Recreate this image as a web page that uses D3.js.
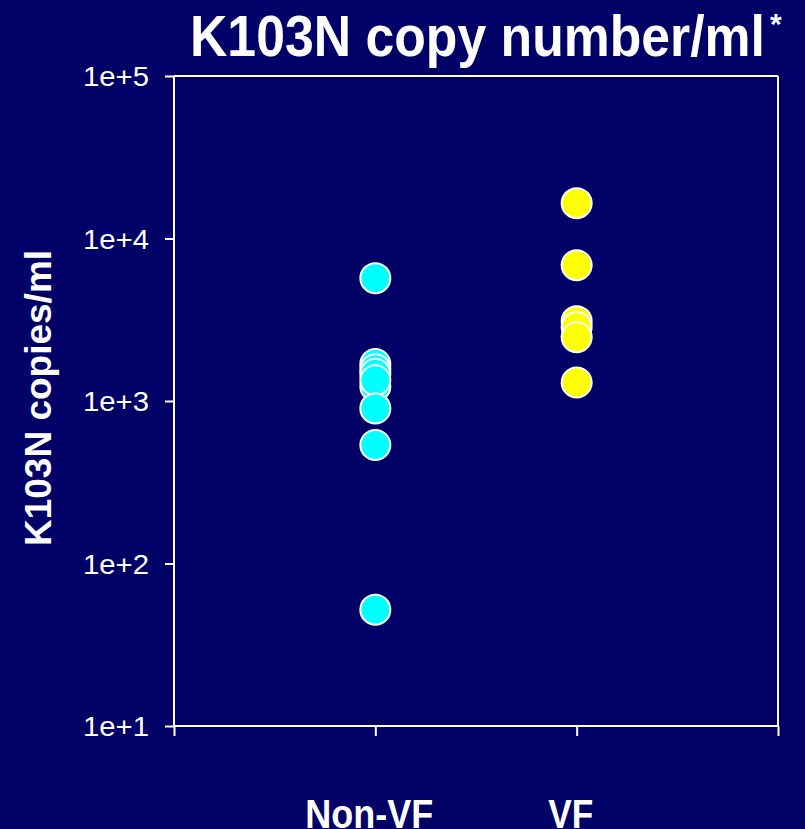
<!DOCTYPE html>
<html><head><meta charset="utf-8">
<script src="https://cdn.jsdelivr.net/npm/d3@7"></script>
<style>
html,body{margin:0;padding:0;background:#000066;}
svg{display:block;}
text{font-family:"Liberation Sans",Arial,sans-serif;fill:#fff;}
</style></head><body>
<svg id="c" width="805" height="829"></svg>
<script>
const categories = ["Non-VF", "VF"];
const nonVF = [5700, 1690, 1570, 1470, 1230, 1340, 900, 536, 52];
const vf = [16500, 6850, 3100, 2850, 2470, 1300];
const yTicks = [10, 100, 1000, 10000, 100000];
const yTickLabels = ["1e+1", "1e+2", "1e+3", "1e+4", "1e+5"];
const colors = ["#00ffff", "#ffff00"];

const svg = d3.select("#c");
const L = 174, R = 778, T = 76, B = 726;
const x = d3.scaleLinear().domain([0, 3]).range([L, R]);
const y = d3.scaleLog().domain([10, 100000]).range([B, T]);

// box
svg.append("line").attr("x1", L).attr("x2", R).attr("y1", T).attr("y2", T).attr("stroke", "#fff").attr("stroke-width", 2);
svg.append("line").attr("x1", R).attr("x2", R).attr("y1", T).attr("y2", B).attr("stroke", "#fff").attr("stroke-width", 2);

const yAxis = d3.axisLeft(y).tickValues(yTicks).tickFormat((d, i) => yTickLabels[i]).tickSize(9).tickPadding(16);
const gy = svg.append("g").attr("transform", `translate(${L},0)`).call(yAxis);
gy.select(".domain").attr("stroke", "#fff").attr("stroke-width", 2).attr("d", `M0,${T}V${B}`);
gy.selectAll(".tick line").attr("stroke", "#fff").attr("stroke-width", 2);
gy.selectAll(".tick text").attr("fill", "#fff").style("font-size", "27px").attr("dy", "0.36em")
  .attr("textLength", 66).attr("lengthAdjust", "spacingAndGlyphs");

const xAxis = d3.axisBottom(x).tickValues([0, 1, 2, 3]).tickFormat("").tickSize(10);
const gx = svg.append("g").attr("transform", `translate(0,${B})`).call(xAxis);
gx.select(".domain").attr("stroke", "#fff").attr("stroke-width", 2).attr("d", `M${L},0H${R}`);
gx.selectAll(".tick line").attr("stroke", "#fff").attr("stroke-width", 2);

// category labels
const catLen = [128, 45];
svg.selectAll(".cat").data(categories).enter().append("text")
  .attr("class", "cat")
  .attr("x", (d, i) => x(i + 1) - 6 - catLen[i] / 2)
  .attr("y", 828)
  .style("font-size", "40px").style("font-weight", "bold")
  .attr("textLength", (d, i) => catLen[i]).attr("lengthAdjust", "spacingAndGlyphs")
  .text(d => d);

// points
const series = [nonVF, vf];
series.forEach((vals, i) => {
  svg.append("g").selectAll("circle").data(vals).enter().append("circle")
    .attr("cx", x(i + 1))
    .attr("cy", d => y(d))
    .attr("r", 15)
    .attr("fill", colors[i])
    .attr("stroke", "#fff")
    .attr("stroke-width", 2);
});

// title
svg.append("text").attr("x", 190).attr("y", 56)
  .style("font-size", "57px").style("font-weight", "bold")
  .attr("textLength", 575).attr("lengthAdjust", "spacingAndGlyphs")
  .text("K103N copy number/ml");
svg.append("text").attr("x", 770).attr("y", 34)
  .style("font-size", "30px").style("font-weight", "bold")
  .text("*");

// y axis title
svg.append("text")
  .attr("transform", "translate(51,398) rotate(-90)")
  .attr("text-anchor", "middle")
  .style("font-size", "37px").style("font-weight", "bold")
  .text("K103N copies/ml");
</script>
</body></html>
